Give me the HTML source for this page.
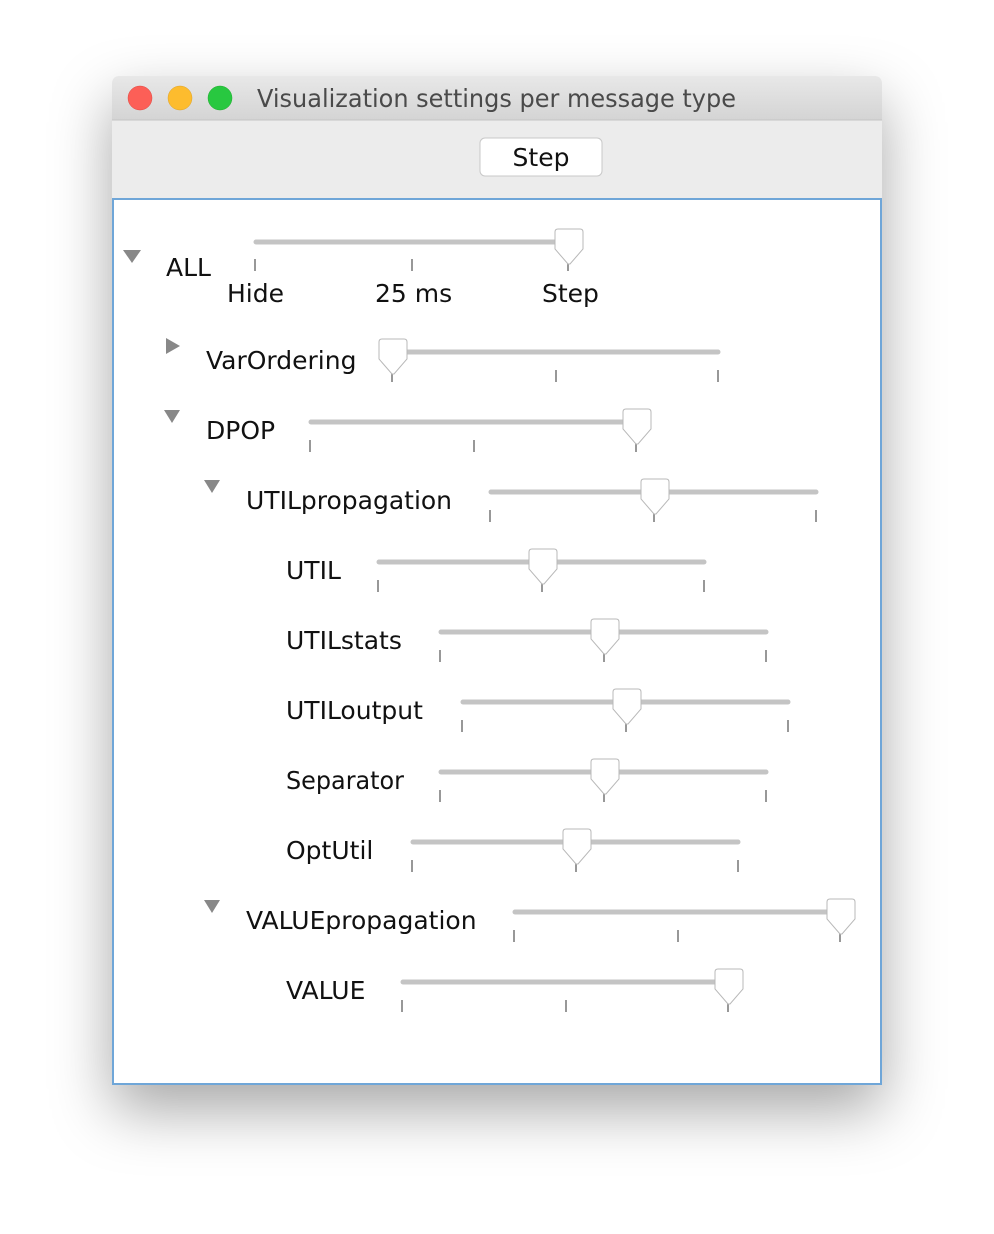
<!DOCTYPE html>
<html><head><style>
html,body{margin:0;padding:0;background:#fff;width:994px;height:1234px;overflow:hidden}
.win{position:absolute;left:112px;top:76px;width:770px;height:1009px;border-radius:8px;box-shadow:0 25px 60px rgba(0,0,0,0.35);background:#ececec;overflow:hidden}
text{font-family:"DejaVu Sans","Liberation Sans",sans-serif}
</style></head><body>
<div class="win"></div>
<svg width="994" height="1234" style="position:absolute;left:0;top:0">
<defs>
<linearGradient id="tb" x1="0" y1="0" x2="0" y2="1"><stop offset="0" stop-color="#e8e8e8"/><stop offset="1" stop-color="#d4d4d4"/></linearGradient>
<g id="th"><path d="M-14,-11 Q-14,-14 -11,-14 L11,-14 Q14,-14 14,-11 L14,6 L1,21 L-1,21 L-14,6 Z" fill="#fff" stroke="#b8b8b8" stroke-width="1"/></g>
</defs>
<path d="M112,120 L112,84 Q112,76 120,76 L874,76 Q882,76 882,84 L882,120 Z" fill="url(#tb)"/>
<line x1="112" y1="120" x2="882" y2="120" stroke="#c4c4c4"/>
<circle cx="140" cy="98" r="12" fill="#fc5f57" stroke="#e0443e" stroke-width="0.5"/>
<circle cx="180" cy="98" r="12" fill="#fdbc2e" stroke="#dea123" stroke-width="0.5"/>
<circle cx="220" cy="98" r="12" fill="#28c840" stroke="#1aab29" stroke-width="0.5"/>
<text x="257" y="107" font-size="25" fill="#4a4a4a" textLength="479" lengthAdjust="spacingAndGlyphs">Visualization settings per message type</text>
<rect x="480" y="138" width="122" height="38" rx="5" fill="#fff" stroke="#c8c8c8"/>
<text x="541" y="166" font-size="25" text-anchor="middle" fill="#111">Step</text>
<rect x="113" y="199" width="768" height="885" fill="#fff" stroke="#6fa6d8" stroke-width="2"/>
<g fill="#888">
<path d="M123,250 L141,250 L132,263 Z"/>
<path d="M166,338 L180,346 L166,354 Z"/>
<path d="M164,410 L180,410 L172,423 Z"/>
<path d="M204,480 L220,480 L212,493 Z"/>
<path d="M204,900 L220,900 L212,913 Z"/>
</g>
<g font-size="25" fill="#111">
<text x="166" y="276">ALL</text>
<text x="227" y="302">Hide</text>
<text x="375" y="302">25 ms</text>
<text x="542" y="302">Step</text>
<text x="206" y="369">VarOrdering</text>
<text x="206" y="439">DPOP</text>
<text x="246" y="509">UTILpropagation</text>
<text x="286" y="579">UTIL</text>
<text x="286" y="649">UTILstats</text>
<text x="286" y="719">UTILoutput</text>
<text x="286" y="789" textLength="118" lengthAdjust="spacingAndGlyphs">Separator</text>
<text x="286" y="859">OptUtil</text>
<text x="246" y="929">VALUEpropagation</text>
<text x="286" y="999">VALUE</text>
</g>
<g stroke="#c4c4c4" stroke-width="5" stroke-linecap="round">
<line x1="256" y1="242" x2="568" y2="242"/>
<line x1="392" y1="352" x2="718" y2="352"/>
<line x1="311" y1="422" x2="636" y2="422"/>
<line x1="491" y1="492" x2="816" y2="492"/>
<line x1="379" y1="562" x2="704" y2="562"/>
<line x1="441" y1="632" x2="766" y2="632"/>
<line x1="463" y1="702" x2="788" y2="702"/>
<line x1="441" y1="772" x2="766" y2="772"/>
<line x1="413" y1="842" x2="738" y2="842"/>
<line x1="515" y1="912" x2="840" y2="912"/>
<line x1="403" y1="982" x2="728" y2="982"/>
</g>
<g stroke="#777" stroke-width="1.5">
<path d="M255,259v12M412,259v12M568,259v12"/>
<path d="M392,370v12M556,370v12M718,370v12"/>
<path d="M310,440v12M474,440v12M636,440v12"/>
<path d="M490,510v12M654,510v12M816,510v12"/>
<path d="M378,580v12M542,580v12M704,580v12"/>
<path d="M440,650v12M604,650v12M766,650v12"/>
<path d="M462,720v12M626,720v12M788,720v12"/>
<path d="M440,790v12M604,790v12M766,790v12"/>
<path d="M412,860v12M576,860v12M738,860v12"/>
<path d="M514,930v12M678,930v12M840,930v12"/>
<path d="M402,1000v12M566,1000v12M728,1000v12"/>
</g>
<use href="#th" x="569" y="243"/>
<use href="#th" x="393" y="353"/>
<use href="#th" x="637" y="423"/>
<use href="#th" x="655" y="493"/>
<use href="#th" x="543" y="563"/>
<use href="#th" x="605" y="633"/>
<use href="#th" x="627" y="703"/>
<use href="#th" x="605" y="773"/>
<use href="#th" x="577" y="843"/>
<use href="#th" x="841" y="913"/>
<use href="#th" x="729" y="983"/>
</svg>
</body></html>
